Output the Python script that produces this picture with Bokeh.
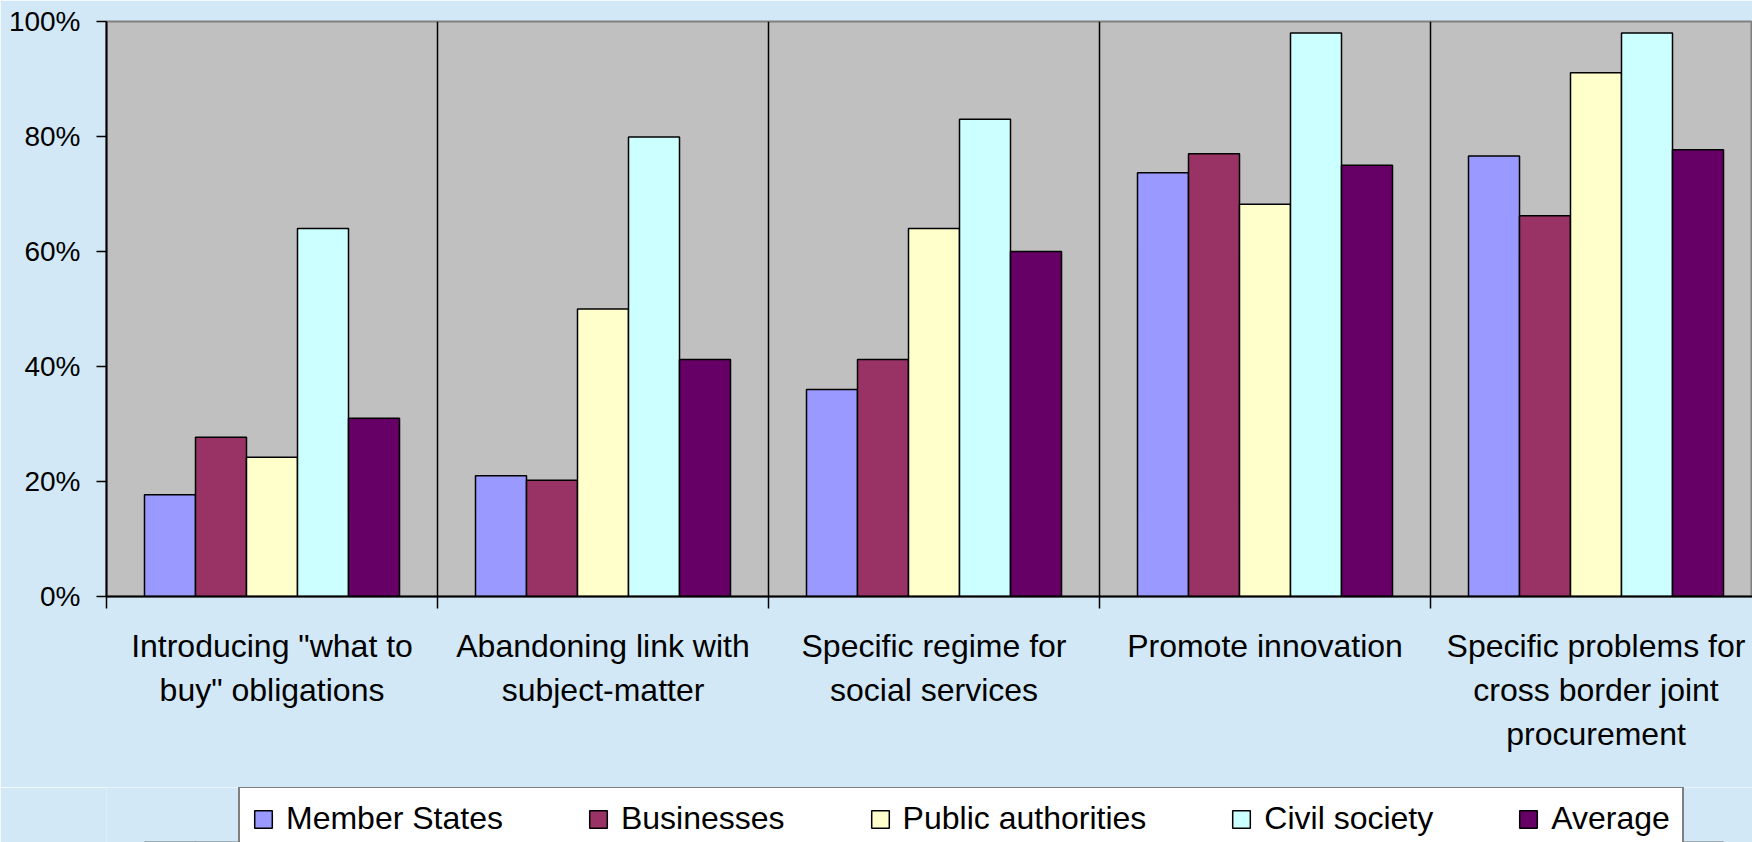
from bokeh.plotting import figure
from bokeh.layouts import column
from bokeh.models import FixedTicker, ColumnDataSource, PrintfTickFormatter, Range1d, Legend, LegendItem
from bokeh.transform import dodge
from bokeh.embed import file_html
from bokeh.resources import INLINE

categories = [
    'Introducing "what to\nbuy" obligations',
    "Abandoning link with\nsubject-matter",
    "Specific regime for\nsocial services",
    "Promote innovation",
    "Specific problems for\ncross border joint\nprocurement",
]
series = ["Member States", "Businesses", "Public authorities", "Civil society", "Average"]
member_states = [17.7, 21.0, 36.0, 73.7, 76.6]
businesses = [27.7, 20.2, 41.2, 77.0, 66.2]
public_authorities = [24.2, 50.0, 64.0, 68.2, 91.1]
civil_society = [64.0, 79.9, 83.0, 98.0, 98.0]
average = [31.0, 41.2, 60.0, 75.0, 77.7]
colors = ["#9999FF", "#993366", "#FFFFCC", "#CCFFFF", "#660066"]
y_ticks = [0, 20, 40, 60, 80, 100]

FONT = "Liberation Sans"
BG = "#d2e8f7"
pos = [i + 0.5 for i in range(len(categories))]
bounds = list(range(len(categories) + 1))
src = ColumnDataSource(dict(x=pos, s0=member_states, s1=businesses, s2=public_authorities,
                            s3=civil_society, s4=average))

W, H1, H2 = 1752, 787, 55
left, top, frame_bottom = 106, 21, 596
cat_px = 331
p = figure(width=W, height=H1, x_range=Range1d(0, (W - left) / cat_px), y_range=Range1d(0, 100),
           output_backend="svg", toolbar_location=None,
           min_border_left=left, min_border_right=0, min_border_top=top,
           min_border_bottom=H1 - frame_bottom)

p.background_fill_color = "#C0C0C0"
p.border_fill_color = BG
p.outline_line_color = "#808080"
p.outline_line_width = 2

bw = 51 / cat_px
for k, name in enumerate(series):
    p.vbar(x=dodge("x", (k - 2) * bw, range=p.x_range), top="s%d" % k, width=bw, bottom=0,
           source=src, fill_color=colors[k], line_color="black", line_width=1.5)

# x axis
xa = p.xaxis[0]
xa.ticker = FixedTicker(ticks=pos, minor_ticks=bounds)
xa.major_label_overrides = {pos[i]: categories[i] for i in range(len(categories))}
xa.major_tick_out = 0
xa.major_tick_in = 0
xa.minor_tick_out = 12
xa.minor_tick_in = 0
xa.minor_tick_line_color = "black"
xa.minor_tick_line_width = 1.5
xa.axis_line_color = "black"
xa.axis_line_width = 2
xa.major_label_text_font = FONT
xa.major_label_text_font_size = "32px"
xa.major_label_text_color = "black"
xa.major_label_text_line_height = 1.23
xa.major_label_standoff = 19
xa.major_label_orientation = "horizontal"

p.xgrid.ticker = FixedTicker(ticks=bounds[1:-1])
p.xgrid.grid_line_color = "black"
p.xgrid.grid_line_width = 1.5
p.ygrid.grid_line_color = None

ya = p.yaxis[0]
ya.ticker = FixedTicker(ticks=y_ticks)
ya.formatter = PrintfTickFormatter(format="%d%%")
ya.major_tick_out = 10
ya.major_tick_in = 0
ya.minor_tick_out = 0
ya.minor_tick_in = 0
ya.major_tick_line_color = "black"
ya.major_tick_line_width = 1.5
ya.axis_line_color = "black"
ya.axis_line_width = 2
ya.major_label_text_font = FONT
ya.major_label_text_font_size = "28px"
ya.major_label_text_color = "black"
ya.major_label_standoff = 16

# legend strip (its bars lie outside its y range, only the legend shows)
p2 = figure(width=W, height=H2, x_range=p.x_range, y_range=Range1d(200, 300),
            output_backend="svg", toolbar_location=None,
            min_border_left=left, min_border_right=0, min_border_top=0, min_border_bottom=0)
p2.axis.visible = False
p2.grid.visible = False
p2.outline_line_color = None
p2.background_fill_color = BG
p2.border_fill_color = BG
items = []
for k, name in enumerate(series):
    r = p2.vbar(x=dodge("x", (k - 2) * bw, range=p2.x_range), top="s%d" % k, width=bw, bottom=0,
                source=src, fill_color=colors[k], line_color="black", line_width=1.5)
    items.append(LegendItem(label=name, renderers=[r]))

pad, label_h = 12, 36
lg = Legend(items=items, orientation="horizontal",
            location=(238 - left, H2 - (2 * pad + label_h) - 4))
lg.background_fill_color = "white"
lg.background_fill_alpha = 1
lg.border_line_color = "black"
lg.border_line_width = 2
lg.label_text_font = FONT
lg.label_text_font_size = "32px"
lg.label_text_color = "black"
lg.glyph_width = 22
lg.glyph_height = 22
lg.label_standoff = 12
lg.label_height = label_h
lg.spacing = 84
lg.padding = pad
lg.margin = 0
p2.add_layout(lg, "center")

layout = column(p, p2, spacing=0)
open("out.html", "w").write(file_html(layout, INLINE))
